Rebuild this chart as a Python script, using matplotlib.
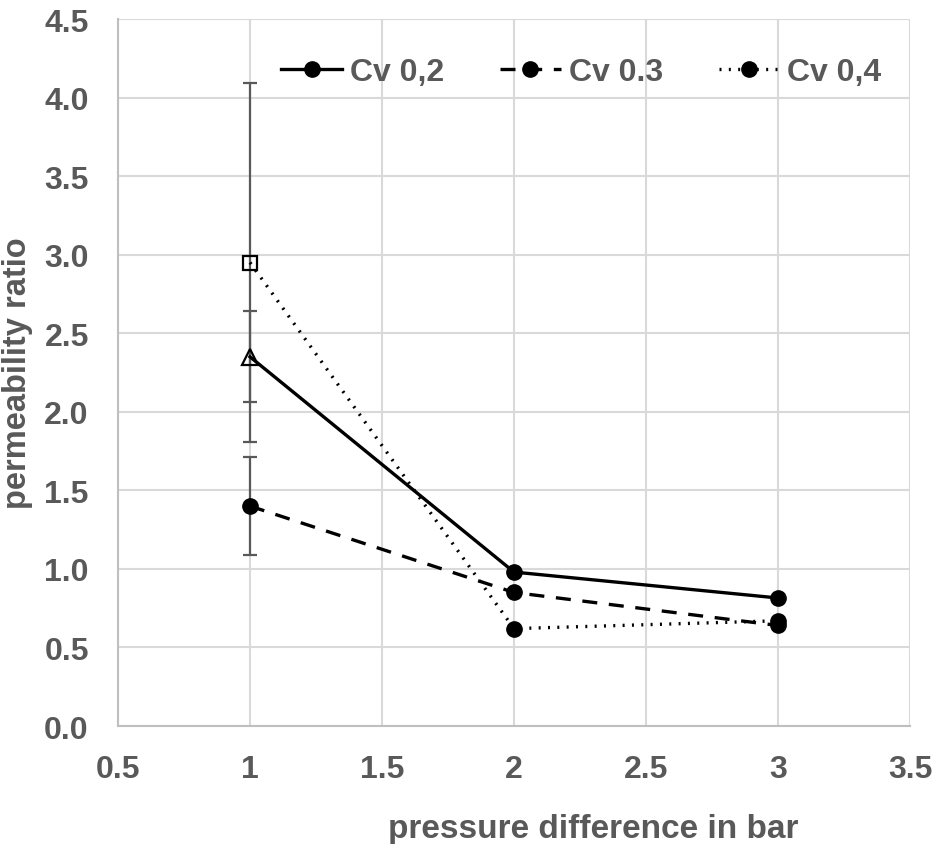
import matplotlib
matplotlib.use("Agg")
import matplotlib.pyplot as plt

plt.rcParams['font.family'] = ['Liberation Sans', 'DejaVu Sans']

# data
pressure = [1, 2, 3]
cv02 = [2.35, 0.98, 0.815]
cv03 = [1.40, 0.85, 0.64]
cv04 = [2.95, 0.62, 0.67]
err_cv02 = 0.29
err_cv03 = 0.31
err_cv04 = 1.14

grey = '#595959'
dash = (4.5, 3.5)
dot = (0.6, 2.2)

fig = plt.figure(figsize=(9.35, 8.45), dpi=100)
ax = fig.add_axes([0.1262, 0.1396, 0.8471, 0.8367])

# error bars at the first point only
for y, e in [(cv02[0], err_cv02), (cv03[0], err_cv03), (cv04[0], err_cv04)]:
    ax.errorbar(pressure[0], y, yerr=e, color=grey, lw=1.6, capsize=5,
                capthick=1.6, fmt='none', zorder=3)

ax.plot(pressure, cv02, '-', color='black', lw=2.4, zorder=4)
ax.plot(pressure, cv03, '--', color='black', lw=2.4, dashes=dash, zorder=4)
ax.plot(pressure, cv04, ':', color='black', lw=2.4, dashes=dot, zorder=4)

# circles on later points
ax.plot(pressure[1:], cv02[1:], 'o', color='black', ms=11, zorder=5)
ax.plot(pressure, cv03, 'o', color='black', ms=11, zorder=5)
ax.plot(pressure[1:], cv04[1:], 'o', color='black', ms=11, zorder=5)

# open markers at first point
ax.plot(pressure[0], cv02[0], '^', mfc='none', mec='black', mew=1.6, ms=11, zorder=5)
ax.plot(pressure[0], cv04[0], 's', mfc='none', mec='black', mew=1.6, ms=10, zorder=5)

# legend handles
h1, = ax.plot([], [], '-o', color='black', lw=2.4, ms=11)
h2, = ax.plot([], [], '--o', color='black', lw=2.4, ms=11, dashes=dash)
h3, = ax.plot([], [], ':o', color='black', lw=2.4, ms=11, dashes=dot)
leg = ax.legend([h1, h2, h3], ['Cv 0,2', 'Cv 0.3', 'Cv 0,4'], ncol=3,
                loc='upper center', bbox_to_anchor=(0.585, 0.987), frameon=False,
                handlelength=1.9, handletextpad=0.25, columnspacing=1.75,
                prop={'weight': 'bold', 'size': 23})
for t in leg.get_texts():
    t.set_color(grey)

ax.set_xlim(0.5, 3.5)
ax.set_ylim(0, 4.5)
ax.set_xticks([0.5, 1, 1.5, 2, 2.5, 3, 3.5])
ax.set_xticklabels(['0.5', '1', '1.5', '2', '2.5', '3', '3.5'])
ax.set_yticks([0, 0.5, 1, 1.5, 2, 2.5, 3, 3.5, 4, 4.5])
ax.set_yticklabels(['%.1f' % v for v in ax.get_yticks()])

ax.grid(True, color='#d9d9d9', lw=1.5, zorder=0)
ax.set_axisbelow(True)
for s in ['top', 'right']:
    ax.spines[s].set_visible(False)
for s in ['left', 'bottom']:
    ax.spines[s].set_color('#bfbfbf')
    ax.spines[s].set_linewidth(1.5)

ax.tick_params(length=0, labelsize=23, labelcolor=grey)
ax.tick_params(axis='x', pad=20)
ax.tick_params(axis='y', pad=21)
for lab in ax.get_xticklabels() + ax.get_yticklabels():
    lab.set_fontweight('bold')

ax.set_xlabel('pressure difference in bar', fontsize=24, fontweight='bold',
              color=grey, va='baseline')
ax.xaxis.set_label_coords(0.60, -0.157)
ax.set_ylabel('permeability ratio', fontsize=23.5, fontweight='bold',
              color=grey, labelpad=8)

fig.savefig('out.png', dpi=100)
